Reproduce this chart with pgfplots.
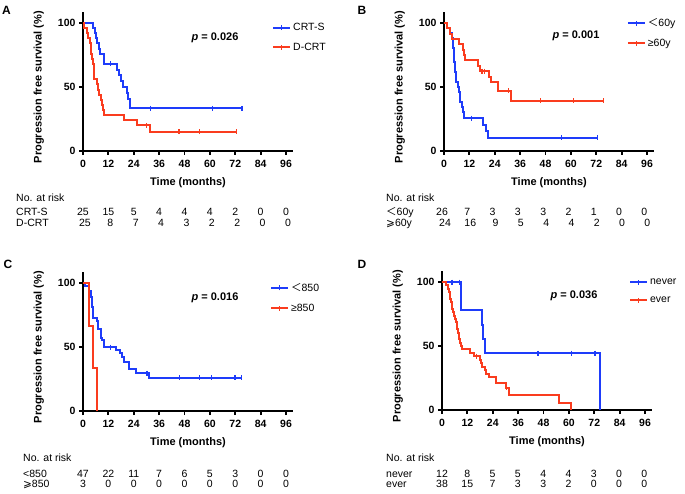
\documentclass[border=0pt]{standalone}
\usepackage{fontspec}
\setmainfont{Liberation Sans}
\newfontfamily\djv{DejaVu Sans}
\newfontfamily\cjk{Noto Sans CJK SC}
\usepackage{pgfplots}
\pgfplotsset{compat=1.18}
\definecolor{kmblue}{RGB}{30,60,250}
\definecolor{kmred}{RGB}{250,60,30}
\newcommand{\fs}[1]{\fontsize{#1}{#1}\selectfont}
\pgfplotsset{
 km/.style={
  scale only axis, width=210pt, height=139pt,
  xmin=0, xmax=99.3, ymin=0, ymax=108.6,
  axis lines=left, axis line style={-, line width=2pt},
  xtick={0,12,...,96}, ytick={0,50,100},
  tick align=outside, major tick length=4pt,
  tick style={line width=1.8pt, black},
  ticklabel style={font=\fs{10.5}\bfseries},
  xticklabel style={yshift=-2pt},
  /pgf/number format/assume math mode=true,
  xlabel={Time (months)}, ylabel={Progression free survival (\%)},
  label style={font=\fs{11}\bfseries},
  xlabel style={at={(axis description cs:0.5,-0.225)}, anchor=center},
  ylabel style={at={(axis description cs:-0.21,0.46)}, anchor=center},
  legend style={draw=none, fill=none, font=\fs{10.5}, inner sep=0pt, cells={anchor=west}, anchor=north west, row sep=7pt},
  legend image code/.code={\draw[#1] (0pt,0pt) -- (17pt,0pt); \draw[#1, line width=1.2pt] (8.5pt,-2.5pt) -- (8.5pt,2.5pt);},
  clip=false,
 },
 kmline/.style={const plot, line width=2pt, color=#1, mark=none},
 cens/.style={only marks, mark=|, mark size=2.5pt, color=#1, mark options={line width=1.2pt, solid}, forget plot},
}
\begin{document}
\begin{tikzpicture}
\path[use as bounding box] (0pt,0pt) rectangle (685pt,-494pt);
% ---------------- Panel A
\begin{axis}[km, at={(83pt,-151pt)}, anchor=south west, legend style={at={(axis description cs:0.90,0.935)}}]
\addplot[kmline=kmblue] coordinates {(0,100)(4.9,96)(5.5,92)(6.2,88)(6.8,84)(7.4,80)(8.0,76)(9.9,68)(15.9,63.5)(17.2,59)(17.9,54.5)(18.7,50)(20.7,45.5)(21.3,41)(22.3,33.3)(75.2,33.3)};
\addlegendentry{CRT-S}
\addplot[kmline=kmred] coordinates {(0,100)(0.5,96)(2.0,92)(2.6,88)(3.2,84)(3.6,80)(4.0,76)(4.4,72)(4.8,68)(5.0,64)(5.3,56)(6.8,52)(7.0,48)(7.4,44)(8.3,40)(9.0,36)(9.3,32)(9.9,28)(19.4,24)(25.4,20)(31.7,15)(72.7,15)};
\addlegendentry{D-CRT}
\addplot[cens=kmblue] coordinates {(13.1,68)(32,33.3)(61.2,33.3)(75.2,33.3)};
\addplot[cens=kmred] coordinates {(30,20)(45.4,15)(55,15)(72.7,15)};
\end{axis}
% ---------------- Panel B
\begin{axis}[km, at={(444pt,-151pt)}, anchor=south west, legend style={at={(axis description cs:0.87,0.97)}}]
\addplot[kmline=kmblue] coordinates {(0,100)(1.6,96.2)(3.0,92.3)(3.8,88.5)(4.1,84.6)(4.3,80.8)(4.5,76.9)(4.7,73.1)(4.9,69.2)(5.1,65.4)(5.3,61.5)(5.5,57.7)(5.6,53.8)(6.7,50)(7.1,46.2)(7.4,42.3)(7.6,38.5)(8.6,34.6)(9.1,30.8)(9.5,25.6)(18.6,20.5)(19.7,15.4)(20.6,10.3)(72.5,10.3)};
\addlegendentry{{\cjk ＜}60y}
\addplot[kmline=kmred] coordinates {(0,100)(1.3,95.8)(3.0,91.7)(3.6,87.5)(7.0,83.3)(9.0,79.2)(9.6,75.0)(9.8,70.8)(16.2,66.7)(17.2,62.5)(21.2,58.0)(22.4,53.6)(25.7,47.0)(31.6,39.2)(75.4,39.2)};
\addlegendentry{≥60y}
\addplot[cens=kmblue] coordinates {(13,25.6)(55.4,10.3)(72.5,10.3)};
\addplot[cens=kmred] coordinates {(18.0,62.5)(19.2,62.5)(30.5,47.0)(45.6,39.2)(61.4,39.2)(75.4,39.2)};
\end{axis}
% ---------------- Panel C
\begin{axis}[km, at={(83pt,-411pt)}, anchor=south west, legend style={at={(axis description cs:0.89,0.935)}}]
\addplot[kmline=kmblue] coordinates {(0,100)(1.0,97.9)(2.9,93.6)(3.6,89.4)(4.1,85.1)(4.3,80.9)(4.6,76.6)(4.9,72.3)(6.5,70.2)(6.9,68.1)(7.3,63.8)(8.3,61.7)(8.7,57.4)(9.0,55.3)(9.7,50.0)(15.7,47.7)(17.6,45.4)(18.4,42.0)(19.5,38.6)(21.6,33.0)(25.2,29.6)(31.1,25.9)(75,25.9)};
\addlegendentry{{\cjk ＜}850}
\addplot[kmline=kmred] coordinates {(0,100)(2.9,66.7)(4.9,33.3)(6.5,0)};
\addlegendentry{≥850}
\addplot[cens=kmblue] coordinates {(12.9,50)(30.3,29.6)(45.6,25.9)(55,25.9)(60.8,25.9)(71.9,25.9)(75,25.9)};
\end{axis}
% ---------------- Panel D
\begin{axis}[km, at={(442pt,-410pt)}, anchor=south west, legend style={at={(axis description cs:0.89,0.96)}}]
\addplot[kmline=kmblue] coordinates {(0,100)(9.2,77.8)(18.7,66.7)(19.5,55.6)(20.3,44.4)(74.8,0)};
\addlegendentry{never}
\addplot[kmline=kmred] coordinates {(0,100)(2.1,97.4)(2.7,94.7)(3.3,92.1)(3.6,89.5)(4.0,86.8)(4.3,84.2)(4.6,81.6)(4.9,78.9)(5.2,76.3)(5.9,73.7)(6.2,71.1)(6.6,68.4)(7.0,65.8)(7.3,63.2)(7.6,60.5)(7.9,57.9)(8.2,55.3)(8.5,52.6)(9.0,50.0)(9.3,47.4)(13.1,44.7)(15.3,42.1)(18.2,39.3)(18.5,36.5)(19.0,33.7)(20.1,31.0)(21.0,28.2)(22.2,25.4)(25.3,21.2)(30.1,17.5)(31.6,11.5)(55.4,5.7)(60.9,0)};
\addlegendentry{ever}
\addplot[cens=kmblue] coordinates {(4.7,100)(8.2,100)(45.4,44.4)(61.2,44.4)(72.3,44.4)};
\addplot[cens=kmred] coordinates {(16.2,42.1)(30.6,17.5)};
\end{axis}
% ---------------- letters and p values
\begin{scope}[every node/.style={font=\fs{12}\bfseries}]
\node at (6.5pt,-10pt) {A};
\node at (362pt,-10pt) {B};
\node at (8pt,-264pt) {C};
\node at (362pt,-264pt) {D};
\end{scope}
\begin{scope}[every node/.style={font=\fs{11}\bfseries}]
\node at (215pt,-38pt) {\textit{p} = 0.026};
\node at (576pt,-36pt) {\textit{p} = 0.001};
\node at (215pt,-298pt) {\textit{p} = 0.016};
\node at (574pt,-296pt) {\textit{p} = 0.036};
\end{scope}
% ---------------- risk tables
\begin{scope}[every node/.style={font=\fs{10.5}, inner sep=0pt}]
% A
\node[anchor=base west] at (16pt,-201.5pt) {No. at risk};
\node[anchor=base west] at (16pt,-216pt) {CRT-S};
\node[anchor=base west] at (16pt,-227pt) {D-CRT};
\foreach \v [count=\i from 0] in {25,15,5,4,4,4,2,0,0} \node[anchor=base] at ({(83+25.38*\i)*1pt},-216pt) {\v};
\foreach \v [count=\i from 0] in {25,8,7,4,3,2,2,0,0} \node[anchor=base] at ({(85+25.38*\i)*1pt},-227pt) {\v};
% B
\node[anchor=base west] at (386pt,-201.5pt) {No. at risk};
\node[anchor=base west] at (386pt,-216pt) {{\cjk ＜}60y};
\node[anchor=base west] at (386pt,-227pt) {{\djv ⩾}60y};
\foreach \v [count=\i from 0] in {26,7,3,3,3,2,1,0,0} \node[anchor=base] at ({(442+25.3*\i)*1pt},-216pt) {\v};
\foreach \v [count=\i from 0] in {24,16,9,5,4,4,2,0,0} \node[anchor=base] at ({(445+25.3*\i)*1pt},-227pt) {\v};
% C
\node[anchor=base west] at (23pt,-461pt) {No. at risk};
\node[anchor=base west] at (23pt,-477pt) {<850};
\node[anchor=base west] at (23pt,-487.5pt) {{\djv ⩾}850};
\foreach \v [count=\i from 0] in {47,22,11,7,6,5,3,0,0} \node[anchor=base] at ({(83+25.38*\i)*1pt},-477pt) {\v};
\foreach \v [count=\i from 0] in {3,0,0,0,0,0,0,0,0} \node[anchor=base] at ({(83+25.38*\i)*1pt},-487.5pt) {\v};
% D
\node[anchor=base west] at (386pt,-461pt) {No. at risk};
\node[anchor=base west] at (386pt,-477pt) {never};
\node[anchor=base west] at (386pt,-487.5pt) {ever};
\foreach \v [count=\i from 0] in {12,8,5,5,4,4,3,0,0} \node[anchor=base] at ({(442+25.3*\i)*1pt},-477pt) {\v};
\foreach \v [count=\i from 0] in {38,15,7,3,3,2,0,0,0} \node[anchor=base] at ({(442+25.3*\i)*1pt},-487.5pt) {\v};
\end{scope}
\end{tikzpicture}
\end{document}
